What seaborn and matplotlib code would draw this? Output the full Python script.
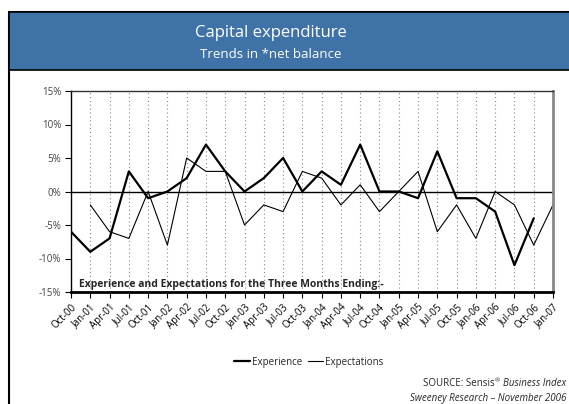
import numpy as np
import pandas as pd
import matplotlib
matplotlib.use("Agg")
import matplotlib.pyplot as plt
from matplotlib.patches import Rectangle
from matplotlib.lines import Line2D
import seaborn as sns

quarters = ["Oct-00", "Jan-01", "Apr-01", "Jul-01", "Oct-01", "Jan-02", "Apr-02",
            "Jul-02", "Oct-02", "Jan-03", "Apr-03", "Jul-03", "Oct-03", "Jan-04",
            "Apr-04", "Jul-04", "Oct-04", "Jan-05", "Apr-05", "Jul-05", "Oct-05",
            "Jan-06", "Apr-06", "Jul-06", "Oct-06", "Jan-07"]
experience = [-6, -9, -7, 3, -1, 0, 2, 7, 3, 0, 2, 5, 0, 3, 1, 7, 0, 0, -1, 6,
              -1, -1, -3, -11, -4, np.nan]
expectations = [np.nan, -2, -6, -7, 0, -8, 5, 3, 3, -5, -2, -3, 3, 2, -2, 1, -3,
                0, 3, -6, -2, -7, 0, -2, -8, -2]
y_ticks = [-15, -10, -5, 0, 5, 10, 15]

sns.set_theme(style="white")
plt.rcParams["font.family"] = ["Open Sans", "DejaVu Sans"]

df = pd.DataFrame({"pos": np.arange(len(quarters)),
                   "Experience": experience,
                   "Expectations": expectations})

fig = plt.figure(figsize=(5.69, 4.04), dpi=100)
W, H = 569, 404

def fx(px):
    return px / W

def fy(py):
    return 1 - py / H

# outer frame and title band
fig.patches.append(Rectangle((fx(9), fy(410)), fx(600) - fx(9), fy(12) - fy(410),
                             transform=fig.transFigure, facecolor="white",
                             edgecolor="black", linewidth=1.5, zorder=-2))
fig.patches.append(Rectangle((fx(9), fy(70)), fx(600) - fx(9), fy(12) - fy(70),
                             transform=fig.transFigure, facecolor="#3F72A6",
                             edgecolor="black", linewidth=1.2, zorder=-1))
fig.text(fx(271), fy(33), "Capital expenditure", color="white", fontsize=12,
         ha="center", va="center")
fig.text(fx(271), fy(54), "Trends in *net balance", color="white", fontsize=9.5,
         ha="center", va="center")

ax = fig.add_axes([fx(71), fy(292), fx(553) - fx(71), fy(91) - fy(292)])
ax.set_facecolor("none")
ax.set_zorder(2)

sns.lineplot(data=df, x="pos", y="Experience", ax=ax, color="black",
             linewidth=1.6, label="Experience", legend=False)
sns.lineplot(data=df, x="pos", y="Expectations", ax=ax, color="black",
             linewidth=0.8, label="Expectations", legend=False)

ax.axhline(0, color="black", linewidth=1.0, zorder=1)
for i in range(1, len(quarters) - 1):
    ax.axvline(i, color="#888888", linestyle=(0, (1, 2.5)), linewidth=0.8, zorder=0)

ax.set_xlim(0, len(quarters) - 1)
ax.set_ylim(-15, 15)
ax.set_xticks(range(len(quarters)))
ax.set_xticklabels(quarters, rotation=45, ha="right", rotation_mode="anchor",
                   fontsize=7)
ax.set_yticks(y_ticks)
ax.set_yticklabels([f"{v}%" for v in y_ticks], fontsize=7)
ax.tick_params(axis="both", direction="out", length=4, width=0.8, colors="black",
               pad=3, bottom=True, left=True)
ax.tick_params(axis="y", labelcolor="#444444")
ax.set_xlabel("")
ax.set_ylabel("")

for side in ["left", "top", "bottom", "right"]:
    ax.spines[side].set_visible(True)
ax.spines["left"].set_color("black")
ax.spines["left"].set_linewidth(1.0)
ax.spines["top"].set_color("#333333")
ax.spines["top"].set_linewidth(1.0)
ax.spines["bottom"].set_color("black")
ax.spines["bottom"].set_linewidth(2.0)
ax.spines["right"].set_color("#888888")
ax.spines["right"].set_linewidth(2.0)

ax.text(0.4, -14.3, "Experience and Expectations for the Three Months Ending:-",
        fontsize=7.5, fontweight="bold", ha="left", va="baseline")

handles = [Line2D([], [], color="black", linewidth=1.6),
           Line2D([], [], color="black", linewidth=0.8)]
fig.legend(handles, ["Experience", "Expectations"], loc="center",
           bbox_to_anchor=(fx(309), fy(362)), ncol=2, frameon=False, fontsize=7,
           handlelength=1.6, handletextpad=0.2, columnspacing=0.6)

# source note: regular text, raised registered mark, italic index name
renderer = fig.canvas.get_renderer()
src_size = 7
italic_part = fig.text(fx(566), fy(384), "Business Index", fontsize=src_size,
                       ha="right", va="center", style="italic")
ib = italic_part.get_window_extent(renderer)
reg_mark = fig.text((ib.x0 - 3) / W, fy(381), "\u00ae", fontsize=4.5,
                    ha="right", va="center")
rb = reg_mark.get_window_extent(renderer)
fig.text(rb.x0 / W, fy(384), "SOURCE: Sensis", fontsize=src_size,
         ha="right", va="center")
fig.text(fx(566), fy(398), "Sweeney Research \u2013 November 2006",
         fontsize=src_size, ha="right", va="center", style="italic")

fig.savefig("out.png", dpi=100)
